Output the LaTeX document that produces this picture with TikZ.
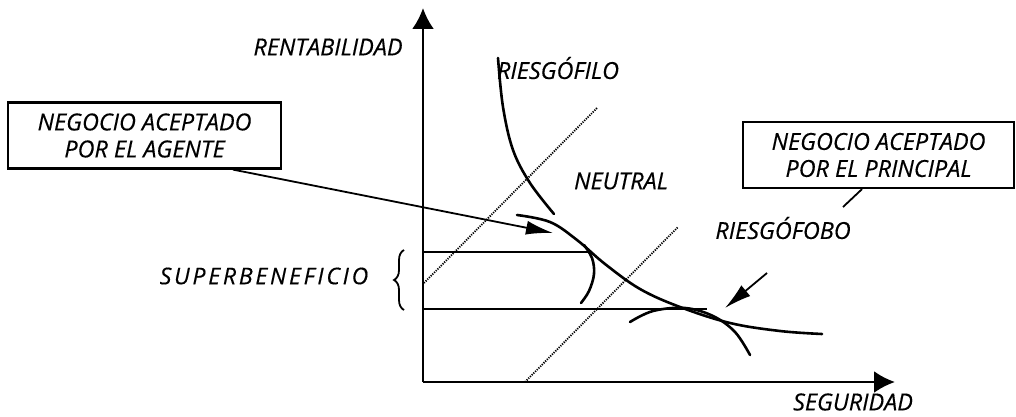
\documentclass[tikz,border=0pt]{standalone}
\usepackage{fontspec}
\setmainfont{Open Sans}
\newfontfamily\lblfont{Open Sans}[FakeBold=0.4]
\usetikzlibrary{arrows.meta,decorations.pathreplacing}
\begin{document}
\begin{tikzpicture}[x=1pt,y=-1pt,
  lbl/.style={inner sep=0pt,font=\lblfont\fontsize{23.4}{26}\selectfont\itshape},
  boxtxt/.style={draw,line width=2.2pt,inner sep=0pt,minimum width=#1,minimum height=66pt,align=center,
    font=\lblfont\fontsize{23.4}{27}\selectfont\itshape},
  axis/.style={line width=2.6pt,-{Latex[length=21pt,width=22pt]}},
  curve/.style={line width=2.6pt,line cap=round},
  hline/.style={line width=2.6pt},
  guide/.style={line width=1.8pt,dash pattern=on 1.2pt off 1.2pt},
  pointer/.style={line width=1.8pt,-{Latex[length=27pt,width=14pt]}},
]
\useasboundingbox (0,0) rectangle (1016,417);
% axes
\coordinate (O) at (423,382);
\coordinate (ytop) at (423,8);
\coordinate (xend) at (895,382);
\draw[axis] (O) -- (ytop);
\draw[axis] (O) -- (xend);
% horizontal lines
\coordinate (h1a) at (423,252);
\coordinate (h1b) at (590,252);
\coordinate (h2a) at (423,309);
\coordinate (h2b) at (707,309);
\draw[hline] (h1a) -- (h1b);
\draw[hline] (h2a) -- (h2b);
% dotted guides
\coordinate (d1a) at (424,283);
\coordinate (d1b) at (597,108);
\coordinate (d2a) at (525,382);
\coordinate (d2b) at (678,227);
\draw[guide] (d1a) -- (d1b);
\draw[guide] (d2a) -- (d2b);
% curves
\draw[curve] plot[smooth,tension=0.6] coordinates {(498,58) (503,107) (513,150) (530,183) (554,214)};
\draw[curve] plot[smooth,tension=0.6] coordinates {(517,215) (550,222) (577,240) (605,264) (640,289) (680,307) (730,323) (780,331) (822,334)};
\draw[curve] plot[smooth,tension=0.6] coordinates {(584,245) (592,258) (594,274) (589,291) (581,303)};
\draw[curve] plot[smooth,tension=0.6] coordinates {(630,322) (653,311) (685,308) (713,316) (735,332) (750,355)};
% labels
\node[lbl] (rent) at (328,47) {RENTABILIDAD};
\node[lbl] (fil) at (558,68) {RIESGÓFILO};
\node[lbl] (neu) at (621,181) {NEUTRAL};
\node[lbl] (fob) at (783,228) {RIESGÓFOBO};
\node[lbl] (seg) at (853,402) {SEGURIDAD};
\node[lbl,font=\lblfont\fontsize{23}{26}\selectfont\itshape\addfontfeatures{LetterSpace=12}] (sup) at (264,276) {SUPERBENEFICIO};
\draw[line width=1.8pt,decorate,decoration={brace,amplitude=10pt}] (404,310) -- (404,250);
% boxes
\node[boxtxt=273pt] (agente) at (144.5,135.5) {NEGOCIO ACEPTADO\\POR EL AGENTE};
\node[boxtxt=271pt] (principal) at (878.5,155) {NEGOCIO ACEPTADO\\POR EL PRINCIPAL};
% pointers
\coordinate (t1) at (553,233);
\coordinate (s2) at (767,273);
\coordinate (t2) at (725,308);
\coordinate (e3) at (843,207);
\draw[pointer] (agente.south -| 233,0) -- (t1);
\draw[pointer] (s2) -- (t2);
\draw[line width=1.8pt] (principal.south -| 862,0) -- (e3);
\end{tikzpicture}
\end{document}
